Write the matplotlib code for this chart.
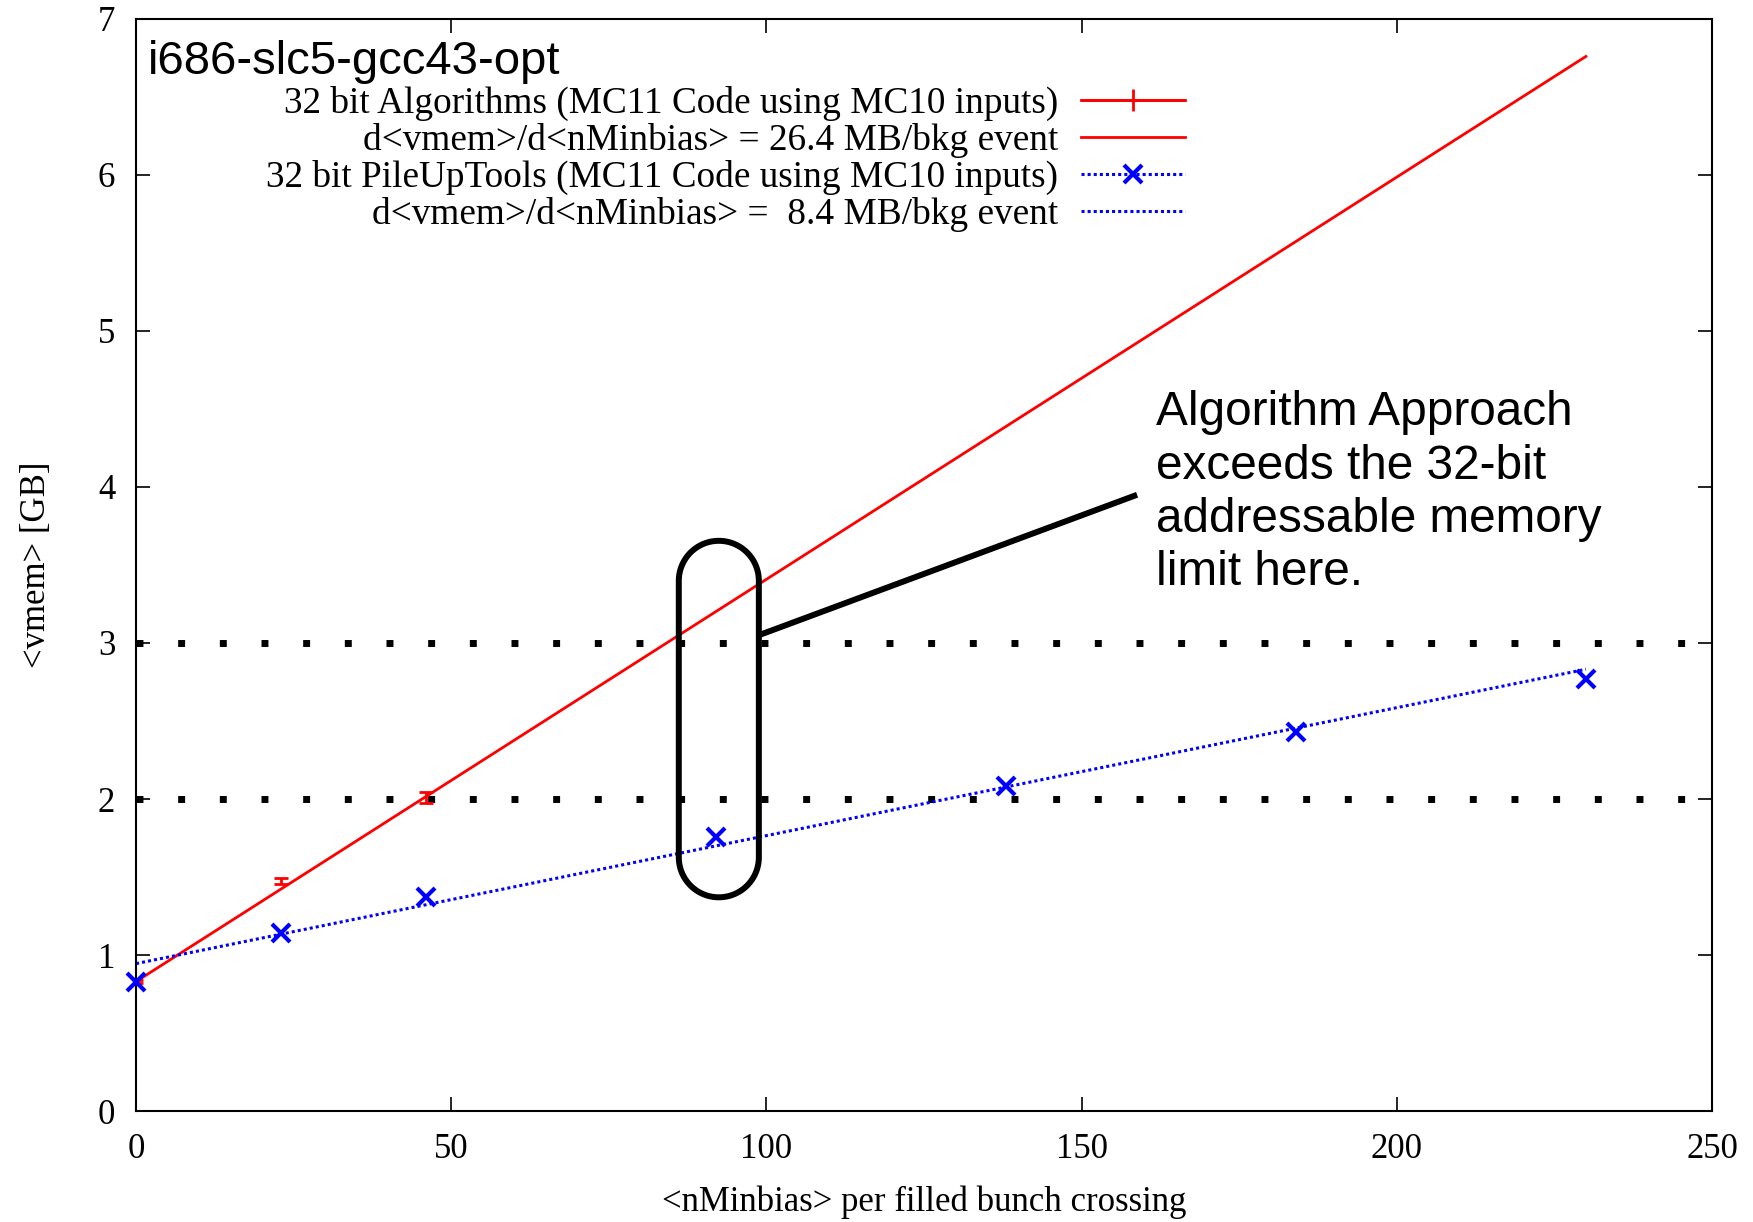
import matplotlib
matplotlib.use("Agg")
import matplotlib.pyplot as plt
from matplotlib.lines import Line2D
from matplotlib.patches import PathPatch
from matplotlib.path import Path
from matplotlib.transforms import ScaledTranslation
from matplotlib.container import ErrorbarContainer
from matplotlib.legend_handler import HandlerErrorbar
import numpy as np

# <nMinbias> per filled bunch crossing
nminbias = [0, 23, 46, 92, 138, 184, 230]

# 32 bit Algorithms: only measured up to 46
alg_x = [0, 23, 46]
alg_vmem = [0.83, 1.475, 2.01]
alg_err = [0.01, 0.02, 0.035]

# 32 bit PileUpTools
put_vmem = [0.83, 1.14, 1.375, 1.755, 2.085, 2.43, 2.77]

# linear fits, slope in MB/bkg event, vmem in GB
alg_slope_mb = 26.4
alg_icpt = 0.83
put_slope_mb = 8.4
put_icpt = 0.945
fit_x = [0, 230]

limit_levels = [2, 3]

plt.rcParams['font.family'] = ['Liberation Serif', 'DejaVu Serif']

fig = plt.figure(figsize=(17.53, 12.22), dpi=100)
ax = fig.add_axes([0.0776, 0.0908, 0.899, 0.8937])
ax.set_xlim(0, 250)
ax.set_ylim(0, 7)

# dotted limit lines
for lv in limit_levels:
    ax.axhline(lv, color='black', lw=5, ls=(0, (1, 5)), dash_capstyle='butt', zorder=1)

# fit lines
fx = np.array(fit_x)
ax.plot(fx, alg_icpt + alg_slope_mb / 1024 * fx, color='red', lw=2, zorder=2)
ax.plot(fx, put_icpt + put_slope_mb / 1024 * fx, color='blue', lw=2.2, ls=(0, (1, 1)), zorder=2)

# data points
ax.errorbar(alg_x, alg_vmem, yerr=alg_err, fmt='none', ecolor='red', elinewidth=2,
            capsize=5, capthick=2, zorder=3)
ax.plot(nminbias, put_vmem, ls='none', marker='x', ms=13, mew=3, color='blue',
        zorder=4, clip_on=False)

# legend with handles on the right, like gnuplot
h1 = ax.errorbar([], [], xerr=[], yerr=[], color='red', lw=2, elinewidth=2,
                 capsize=4, capthick=2)
h2 = Line2D([], [], color='red', lw=2)
h3 = Line2D([], [], color='blue', lw=2.2, ls=(0, (1, 1)), marker='x', ms=13, mew=3)
h4 = Line2D([], [], color='blue', lw=2.2, ls=(0, (1, 1)))
labels = ['32 bit Algorithms (MC11 Code using MC10 inputs)',
          'd<vmem>/d<nMinbias> = 26.4 MB/bkg event',
          '32 bit PileUpTools (MC11 Code using MC10 inputs)',
          'd<vmem>/d<nMinbias> =  8.4 MB/bkg event']
leg_fs = 26.8
leg = ax.legend([h1, h2, h3, h4], labels, markerfirst=False, frameon=False,
                fontsize=leg_fs, handlelength=2.8, handletextpad=0.62, labelspacing=0.05,
                loc='upper right', bbox_to_anchor=(0.687, 0.969),
                handler_map={ErrorbarContainer: HandlerErrorbar(xerr_size=1.4, yerr_size=0.3)})

ax.text(1.95, 6.725, 'i686-slc5-gcc43-opt', fontsize=34, family=['Liberation Sans'],
        va='center', ha='left')

# highlight box around x ~ 92 (stadium shape)
fig.canvas.draw()
px_x = ax.transData.transform((1, 0))[0] - ax.transData.transform((0, 0))[0]
px_y = ax.transData.transform((0, 1))[1] - ax.transData.transform((0, 0))[1]
bx0, bx1, by0, by1 = 86.1, 98.8, 1.37, 3.655
r_in = (bx1 - bx0) / 2 * px_x / fig.dpi
half_in = (by1 - by0) / 2 * px_y / fig.dpi
hs = half_in - r_in
th = np.linspace(0, np.pi, 60)
top = np.column_stack([r_in * np.cos(th), hs + r_in * np.sin(th)])
bot = np.column_stack([-r_in * np.cos(th), -hs - r_in * np.sin(th)])
verts = np.vstack([top, bot, top[:1]])
codes = [Path.MOVETO] + [Path.LINETO] * (len(verts) - 2) + [Path.CLOSEPOLY]
off = fig.dpi_scale_trans + ScaledTranslation((bx0 + bx1) / 2, (by0 + by1) / 2, ax.transData)
ax.add_patch(PathPatch(Path(verts, codes), transform=off, fill=False, ec='black',
                       lw=4.3, zorder=5))
ax.plot([98.8, 158.8], [3.05, 3.95], color='black', lw=4.3, solid_capstyle='butt', zorder=5)
ax.text(161.8, 4.62, 'Algorithm Approach\nexceeds the 32-bit\naddressable memory\nlimit here.',
        fontsize=34.4, family=['Liberation Sans'], va='top', ha='left', linespacing=1.24)

ax.set_xticks([0, 50, 100, 150, 200, 250])
ax.set_yticks(range(8))
ax.tick_params(direction='in', length=10, width=1.2, top=True, right=True, labelsize=25)
ax.tick_params(axis='x', pad=16)
ax.tick_params(axis='y', pad=15)
for s in ax.spines.values():
    s.set_linewidth(1.5)
ax.set_xlabel('<nMinbias> per filled bunch crossing', fontsize=25, labelpad=14)
ax.set_ylabel('<vmem> [GB]', fontsize=25, labelpad=32)

fig.savefig('out.png', dpi=100)
